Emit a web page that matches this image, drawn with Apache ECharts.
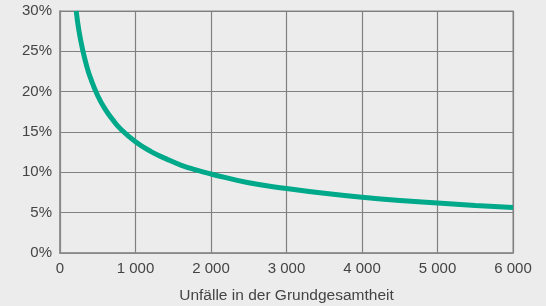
<!DOCTYPE html>
<html><head><meta charset="utf-8">
<script src="https://cdn.jsdelivr.net/npm/echarts@6/dist/echarts.min.js"></script>
<style>html,body{margin:0;padding:0;background:#ececec;}#c{width:546px;height:306px;}</style>
</head><body><div id="c"></div>
<script>
const xValues = [215, 250, 300, 350, 400, 500, 600, 700, 800, 1000, 1200, 1400, 1600, 1800, 2000, 2500, 3000, 3500, 4000, 4500, 5000, 5500, 6000];
const yValues = [30, 27.6, 25.2, 23.3, 21.8, 19.5, 17.8, 16.5, 15.4, 13.8, 12.6, 11.7, 10.9, 10.3, 9.8, 8.7, 8.0, 7.4, 6.9, 6.5, 6.2, 5.9, 5.65];
const xTicks = [0, 1000, 2000, 3000, 4000, 5000, 6000];
const yTicks = [0, 5, 10, 15, 20, 25, 30];
const xTitle = 'Unfälle in der Grundgesamtheit';

const font = 'Liberation Sans, Arial, sans-serif';
const chart = echarts.init(document.getElementById('c'), null, {renderer: 'canvas'});
chart.setOption({
  backgroundColor: '#ececec',
  animation: false,
  grid: {left: 60, right: 33, top: 11, bottom: 53, show: true, borderColor: '#a8a8a8', borderWidth: 1.5, containLabel: false, outerBoundsMode: 'none'},
  xAxis: {
    type: 'value', min: xTicks[0], max: xTicks[xTicks.length - 1], interval: 1000,
    name: xTitle, nameLocation: 'middle', nameGap: 35,
    nameTextStyle: {color: '#444', fontSize: 15.5, fontFamily: font},
    axisLine: {show: true, lineStyle: {color: '#8a8a8a', width: 1.5}},
    axisTick: {show: false},
    splitLine: {show: true, lineStyle: {color: '#808080', width: 1.2}},
    axisLabel: {color: '#444', fontSize: 15, fontFamily: font, margin: 8,
      formatter: v => v >= 1000 ? Math.floor(v / 1000) + ' ' + String(v % 1000).padStart(3, '0') : String(v)}
  },
  yAxis: {
    type: 'value', min: yTicks[0], max: yTicks[yTicks.length - 1], interval: 5,
    axisLine: {show: true, lineStyle: {color: '#8a8a8a', width: 1.5}},
    axisTick: {show: false},
    splitLine: {show: true, lineStyle: {color: '#808080', width: 1.2}},
    axisLabel: {color: '#444', fontSize: 15, fontFamily: font, margin: 8, formatter: v => v + '%'}
  },
  series: [{
    type: 'line', smooth: true, showSymbol: false, clip: true,
    data: xValues.map((x, i) => [x, yValues[i]]),
    lineStyle: {color: '#00a98a', width: 5}
  }]
});
</script></body></html>
